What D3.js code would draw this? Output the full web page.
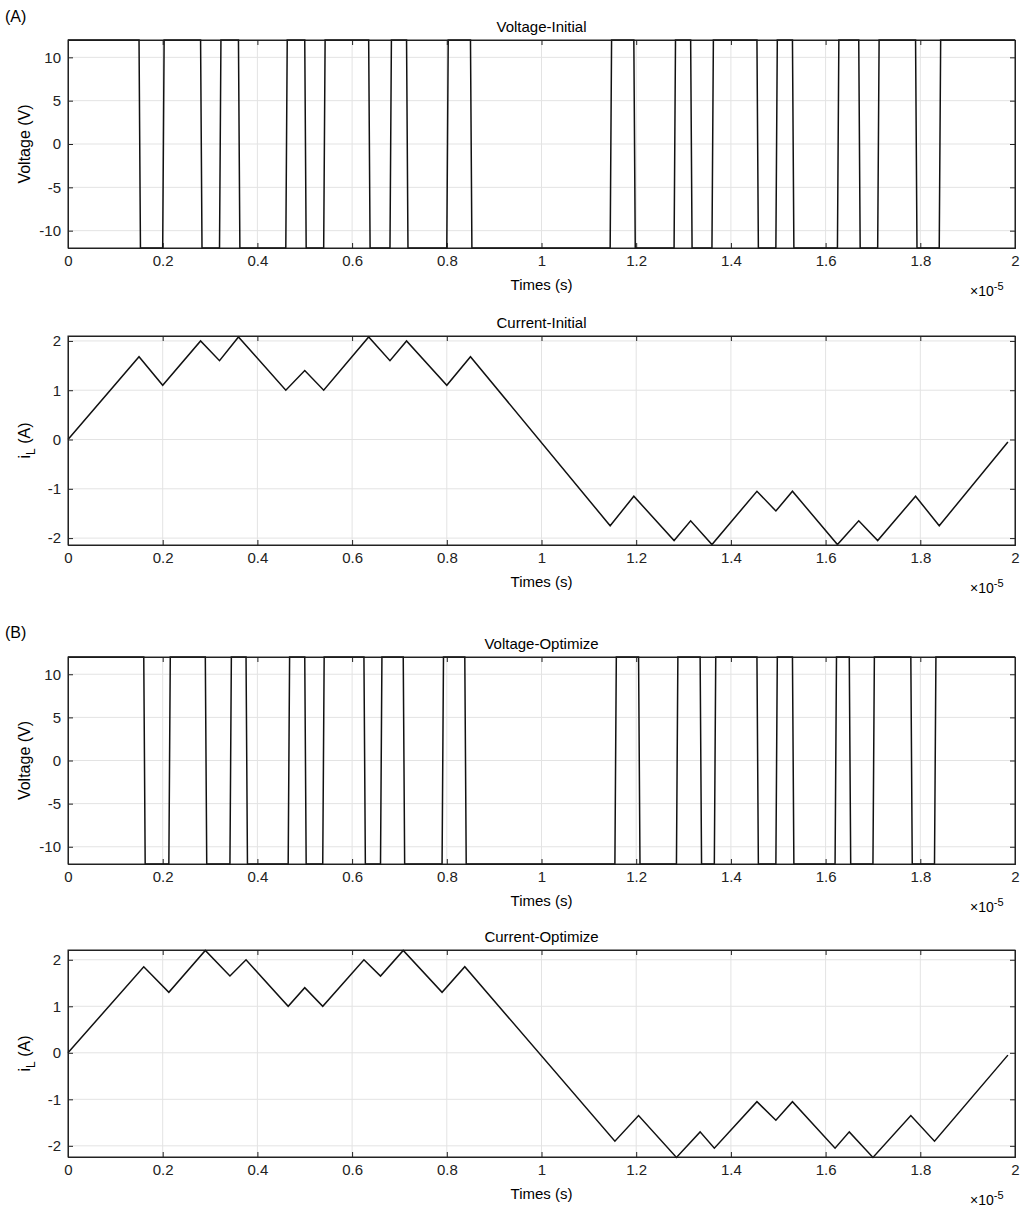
<!DOCTYPE html>
<html><head><meta charset="utf-8"><script src="https://cdn.jsdelivr.net/npm/d3@7"></script>
<style>body{margin:0;background:#fff;font-family:"Liberation Sans",Arial,sans-serif}</style></head>
<body><svg id="c" width="1032" height="1209"></svg>
<script>
// switching times (x1e-6 s); voltage starts high (+12)
const swInitial=[1.5,2.0,2.8,3.2,3.6,4.6,5.0,5.4,6.35,6.8,7.15,8.0,8.5,11.45,11.95,12.8,13.15,13.6,14.55,14.95,15.3,16.25,16.7,17.1,17.9,18.4];
const swOptim=[1.6,2.13,2.9,3.42,3.76,4.65,5.0,5.38,6.25,6.6,7.08,7.9,8.38,11.55,12.05,12.85,13.35,13.65,14.55,14.95,15.3,16.2,16.5,17.0,17.8,18.3];
// current vertices [t(x1e-6), A]
const iInitT=[0,1.5,2.0,2.8,3.2,3.6,4.6,5.0,5.4,6.35,6.8,7.15,8.0,8.5,11.45,11.95,12.8,13.15,13.6,14.55,14.95,15.3,16.25,16.7,17.1,17.9,18.4,19.85];
const iInitV=[0,1.68,1.1,2.0,1.6,2.08,1.0,1.4,1.0,2.08,1.6,2.0,1.1,1.68,-1.75,-1.15,-2.05,-1.65,-2.13,-1.05,-1.45,-1.05,-2.13,-1.65,-2.05,-1.15,-1.75,-0.05];
const iOptT=[0,1.6,2.13,2.9,3.42,3.76,4.65,5.0,5.38,6.25,6.6,7.08,7.9,8.38,11.55,12.05,12.85,13.35,13.65,14.55,14.95,15.3,16.2,16.5,17.0,17.8,18.3,19.85];
const iOptV=[0,1.85,1.3,2.2,1.65,2.0,1.0,1.4,1.0,2.0,1.65,2.2,1.3,1.85,-1.9,-1.35,-2.25,-1.7,-2.05,-1.05,-1.45,-1.05,-2.05,-1.7,-2.25,-1.35,-1.9,-0.05];
const xTicks=[0,0.2,0.4,0.6,0.8,1,1.2,1.4,1.6,1.8,2];
const vTicks=[-10,-5,0,5,10];
const iTicks=[-2,-1,0,1,2];

const svg=d3.select("#c");
const L=68,R=1015;
const x=d3.scaleLinear().domain([0,2]).range([L,R]);
function vdata(sw){const p=[[0,12]];let v=12;const e=0.03;sw.forEach(t=>{p.push([t/10,v]);v=-v;p.push([(t+e)/10,v]);});p.push([2,v]);return p;}
function panel(top,bot,yd,yt,title,ylab,pts,isCur){
  const y=d3.scaleLinear().domain(yd).range([bot,top]);
  const g=svg.append("g");
  g.selectAll(".gx").data(xTicks).join("line").attr("x1",d=>x(d)).attr("x2",d=>x(d)).attr("y1",top).attr("y2",bot).attr("stroke","#e3e3e3");
  g.selectAll(".gy").data(yt).join("line").attr("x1",L).attr("x2",R).attr("y1",d=>y(d)).attr("y2",d=>y(d)).attr("stroke","#e3e3e3");
  g.append("g").attr("transform",`translate(0,${bot})`).call(d3.axisBottom(x).tickValues(xTicks).tickSize(-5).tickPadding(7).tickFormat(d=>String(+d.toFixed(1))));
  g.append("g").attr("transform",`translate(0,${top})`).call(d3.axisTop(x).tickValues(xTicks).tickSize(-5).tickFormat(""));
  g.append("g").attr("transform",`translate(${L},0)`).call(d3.axisLeft(y).tickValues(yt).tickSize(-5).tickPadding(7).tickFormat(d=>String(d)));
  g.append("g").attr("transform",`translate(${R},0)`).call(d3.axisRight(y).tickValues(yt).tickSize(-5).tickFormat(""));
  g.selectAll(".domain").attr("stroke","#222");
  g.selectAll(".tick line").attr("stroke","#222");
  g.selectAll(".tick text").attr("font-size",15).attr("fill","#222").attr("font-family","Liberation Sans, Arial");
  g.append("path").datum(pts).attr("d",d3.line().x(d=>x(d[0])).y(d=>y(d[1]))).attr("fill","none").attr("stroke","#111").attr("stroke-width",1.5);
  g.append("rect").attr("x",L).attr("y",top).attr("width",R-L).attr("height",bot-top).attr("fill","none").attr("stroke","#222");
  g.append("text").attr("x",(L+R)/2).attr("y",top-8).attr("text-anchor","middle").attr("font-size",15).text(title);
  g.append("text").attr("x",(L+R)/2).attr("y",bot+42).attr("text-anchor","middle").attr("font-size",15).text("Times (s)");
  const ex=g.append("text").attr("x",R-45).attr("y",bot+48).attr("font-size",14);
  ex.append("tspan").text("×10");ex.append("tspan").attr("dy",-6).attr("font-size",11).text("-5");
  const yl=g.append("text").attr("transform",`translate(30,${(top+bot)/2}) rotate(-90)`).attr("text-anchor","middle").attr("font-size",16);
  if(isCur){yl.append("tspan").text("i");yl.append("tspan").attr("dy",5).attr("font-size",12).text("L");yl.append("tspan").attr("dy",-5).text(" (A)");}
  else yl.text(ylab);
}
svg.append("text").attr("x",5).attr("y",22).attr("font-size",16).text("(A)");
svg.append("text").attr("x",5).attr("y",638).attr("font-size",16).text("(B)");
panel(40,248,[-12,12],vTicks,"Voltage-Initial","Voltage (V)",vdata(swInitial),false);
panel(336,545,[-2.14,2.1],iTicks,"Current-Initial","",iInitT.map((t,i)=>[t/10,iInitV[i]]),true);
panel(657,864,[-12,12],vTicks,"Voltage-Optimize","Voltage (V)",vdata(swOptim),false);
panel(950,1157,[-2.24,2.21],iTicks,"Current-Optimize","",iOptT.map((t,i)=>[t/10,iOptV[i]]),true);
</script></body></html>
